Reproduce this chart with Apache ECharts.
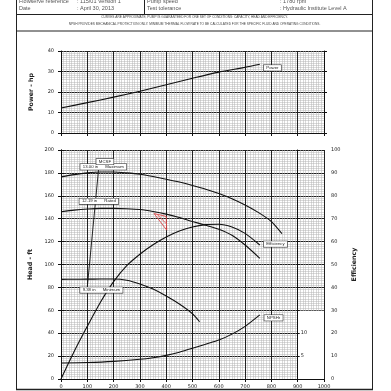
<!DOCTYPE html>
<html><head><meta charset="utf-8">
<script src="https://cdn.jsdelivr.net/npm/echarts@6/dist/echarts.min.js"></script>
<style>html,body{margin:0;padding:0;background:#fff}#c{width:391px;height:391px}</style>
</head><body><div id="c"></div>
<script>
// ---- data (flow in USgpm) ----
const powerHp   = [[0,12.2],[100,14.8],[200,17.5],[300,20.4],[400,23.5],[500,26.7],[600,29.7],[700,32.0],[756,33.5]];
const headMax   = [[0,176.5],[50,178.5],[100,180],[150,180.8],[200,180.8],[250,180],[300,178.8],[350,176.8],[400,174.5],[450,172],[500,169],[550,165.8],[600,162],[650,157.5],[700,152],[750,145.5],[800,137.5],[840,127]];
const headRated = [[0,146],[50,147.5],[100,148.5],[150,149],[200,149],[250,148.7],[300,148],[350,146.3],[400,144],[450,141],[500,137.5],[550,134.3],[600,130.8],[650,125.5],[700,117],[756,105.4]];
const headMin   = [[0,87],[50,87.1],[100,87.2],[150,87.3],[200,87.3],[250,86.2],[300,83],[350,78.5],[400,72.5],[450,65.5],[500,57],[527,50]];
const effPct    = [[0,0],[50,12],[100,23],[150,33.5],[200,42.5],[250,49.5],[300,54.5],[350,58.6],[400,62],[450,64.6],[500,66.4],[550,67.4],[600,67.6],[650,66.4],[700,63.6],[756,58.5]];
const npshFt    = [[0,3.5],[100,3.6],[200,3.85],[300,4.3],[350,4.65],[400,5.15],[450,5.85],[500,6.7],[550,7.6],[600,8.5],[650,9.8],[700,11.5],[756,14]];
const mcsfLine  = [[145,188.4],[100,80.3]];
const tolShape  = [[354,144.5],[400,142],[402,130],[354,144.5]];
const tolHatch  = [[366,143.6],[401,135.5]];
const npshTicks = [5,10];

const hdrLeftLabels  = ['Flowserve reference','Date'];
const hdrLeftValues  = [': 115/01 Version 1',': April 30, 2013'];
const hdrRightLabels = ['Pump speed','Test tolerance'];
const hdrRightValues = [': 1780 rpm',': Hydraulic Institute Level A'];
const notes = ['CURVES ARE APPROXIMATE, PUMP IS GUARANTEED FOR ONE SET OF CONDITIONS: CAPACITY, HEAD AND EFFICIENCY.',
               'NPSH PROVIDES MECHANICAL PROTECTION ONLY. MINIMUM THERMAL FLOW RATE TO BE CALCULATED FOR THE SPECIFIC FLUID AND OPERATING CONDITIONS.'];

const TICK_FONT = 'DejaVu Sans';
const major = {show:true, lineStyle:{color:'#222', width:1}};
const minor = {show:true, lineStyle:{color:'#b4b4b4', width:0.5}};
const axisBlack = {show:true, lineStyle:{color:'#111', width:1}};
const tick = {show:true, length:3, lineStyle:{color:'#111', width:1}};
const lbl = (m) => ({show:true, fontSize:5, fontFamily:TICK_FONT, color:'#222', margin:m, formatter:(v)=>String(v)});
const nameStyle = {fontSize:6.3, fontWeight:'bold', fontFamily:TICK_FONT, color:'#222'};
const curve = {color:'#111', width:1.1};
const boxLabel = {show:true, position:'inside', formatter:'{b}', fontSize:4.3, fontFamily:'Liberation Sans', color:'#222',
  backgroundColor:'#fff', borderColor:'#333', borderWidth:0.6, padding:[0.8,2.5]};
const smoothCurve = {smooth:0.25, symbol:'none', lineStyle:curve};

const gridX = {left:61, width:263};

function txt(x,y,t,opt){return Object.assign({type:'text', x:x, y:y, silent:true,
  style:{text:t, fontSize:5.5, fontFamily:'Liberation Sans', fill:'#555', align:'left', verticalAlign:'middle'}}, opt||{});}
function ln(x1,y1,x2,y2,w){return {type:'line', silent:true, shape:{x1,y1,x2,y2}, style:{stroke:'#222', lineWidth:w||1}};}

const graphics = [
  ln(16.5,0,16.5,390), ln(372.5,0,372.5,390), ln(16,389.5,373,389.5,1.5),
  ln(16,14.5,373,14.5), ln(144.5,0,144.5,14.5), ln(16,31,373,31),
];
hdrLeftLabels.forEach((t,i)=>graphics.push(txt(19,1+i*7.3,t)));
hdrLeftValues.forEach((t,i)=>graphics.push(txt(77,1+i*7.3,t)));
hdrRightLabels.forEach((t,i)=>graphics.push(txt(147,1+i*7.3,t)));
hdrRightValues.forEach((t,i)=>graphics.push(txt(280,1+i*7.3,t)));
notes.forEach((t,i)=>graphics.push({type:'text', x:194.5, y:17.6+i*6.1, silent:true,
  style:{text:t, fontSize:3.2, fontFamily:'Liberation Sans', fill:'#444', align:'center', verticalAlign:'middle'}}));
graphics.push({type:'text', x:320.5, y:366, rotation:Math.PI/2, silent:true,
  style:{text:'NPSHr - ft', fontSize:4.6, fontWeight:'bold', fontFamily:TICK_FONT, fill:'#222', align:'center', verticalAlign:'middle'}});

const option = {
  animation:false,
  backgroundColor:'#fff',
  grid:[
    Object.assign({top:51, height:82}, gridX),
    Object.assign({top:150, height:229}, gridX)
  ],
  xAxis:[
    {type:'value', gridIndex:0, min:0, max:1000, interval:100, axisLine:axisBlack, axisTick:tick, axisLabel:{show:false},
     splitLine:major, minorTick:{show:false, splitNumber:10}, minorSplitLine:minor},
    {type:'value', gridIndex:1, min:0, max:1000, interval:100, z:3, axisLine:axisBlack, axisTick:tick, axisLabel:lbl(5),
     splitLine:{show:false}},
    {type:'value', gridIndex:1, min:0, max:1000, interval:100, axisLine:{show:false}, axisTick:{show:false}, axisLabel:{show:false},
     splitLine:major, minorTick:{show:false, splitNumber:10}, minorSplitLine:minor}
  ],
  yAxis:[
    {type:'value', gridIndex:0, min:0, max:40, interval:10, axisLine:axisBlack, axisTick:tick, axisLabel:lbl(7),
     splitLine:major, minorTick:{show:false, splitNumber:10}, minorSplitLine:minor,
     name:'Power - hp', nameLocation:'middle', nameGap:27, nameTextStyle:nameStyle},
    {type:'value', gridIndex:0, position:'right', min:0, max:40, interval:10, axisLine:axisBlack, axisTick:tick,
     axisLabel:{show:false}, splitLine:{show:false}},
    {type:'value', gridIndex:1, min:0, max:200, interval:20, axisLine:axisBlack, axisTick:tick, axisLabel:lbl(7),
     splitLine:major, minorTick:{show:false, splitNumber:10}, minorSplitLine:minor,
     name:'Head - ft', nameLocation:'middle', nameGap:27, nameTextStyle:nameStyle},
    {type:'value', gridIndex:1, position:'right', min:0, max:100, interval:10, z:3, axisLine:axisBlack, axisTick:tick,
     axisLabel:lbl(7), splitLine:{show:false},
     name:'Efficiency', nameLocation:'middle', nameGap:24, nameTextStyle:nameStyle},
    {type:'value', gridIndex:1, position:'right', offset:-26.3, min:0, max:50, interval:5, z:3, axisLine:axisBlack,
     axisTick:{show:true, length:2, lineStyle:{color:'#111'}},
     axisLabel:Object.assign(lbl(3), {formatter:(v)=>npshTicks.indexOf(v)>=0 ? String(v) : ''}), splitLine:{show:false}}
  ],
  graphic:graphics,
  series:[
    Object.assign({type:'line', name:'Power', xAxisIndex:0, yAxisIndex:0, data:powerHp,
     endLabel:Object.assign({}, boxLabel, {formatter:'Power', distance:4, offset:[0,3.6], position:undefined})}, smoothCurve),
    Object.assign({type:'line', name:'13.00 in', xAxisIndex:1, yAxisIndex:2, data:headMax,
     markArea:{silent:true, z:1, itemStyle:{color:'#fff', opacity:1, borderWidth:0}, data:[[{coord:[900,0]},{coord:[1000,59.5]}]]},
     markPoint:{symbol:'rect', symbolSize:0, silent:true, label:boxLabel,
       data:[{name:'13.00 in      Maximum', coord:[161,185.3]},{name:'MCSF', coord:[167,189.8]}]}}, smoothCurve),
    Object.assign({type:'line', name:'12.19 in', xAxisIndex:1, yAxisIndex:2, data:headRated,
     markPoint:{symbol:'rect', symbolSize:0, silent:true, label:boxLabel,
       data:[{name:'12.19 in      Rated', coord:[144,155.2]}]}}, smoothCurve),
    Object.assign({type:'line', name:'9.38 in', xAxisIndex:1, yAxisIndex:2, data:headMin,
     markPoint:{symbol:'rect', symbolSize:0, silent:true, label:boxLabel,
       data:[{name:'9.38 in      Minimum', coord:[153.6,77.7]}]}}, smoothCurve),
    {type:'line', name:'MCSF', xAxisIndex:1, yAxisIndex:2, data:mcsfLine, symbol:'none', lineStyle:{color:'#111', width:0.9}},
    {type:'line', name:'tol', xAxisIndex:1, yAxisIndex:2, data:tolShape, symbol:'none', lineStyle:{color:'#e04a4a', width:0.9}},
    {type:'line', name:'tol2', xAxisIndex:1, yAxisIndex:2, data:tolHatch, symbol:'none', lineStyle:{color:'#e04a4a', width:0.8}},
    Object.assign({type:'line', name:'Efficiency', xAxisIndex:1, yAxisIndex:3, data:effPct,
     endLabel:Object.assign({}, boxLabel, {formatter:'Efficiency', distance:4, offset:[0,-1], position:undefined})}, smoothCurve),
    Object.assign({type:'line', name:'NPSHr', xAxisIndex:1, yAxisIndex:4, data:npshFt,
     endLabel:Object.assign({}, boxLabel, {formatter:'NPSHr', distance:4.5, offset:[0,3], position:undefined})}, smoothCurve)
  ]
};
const chart = echarts.init(document.getElementById('c'));
chart.setOption(option);
</script></body></html>
